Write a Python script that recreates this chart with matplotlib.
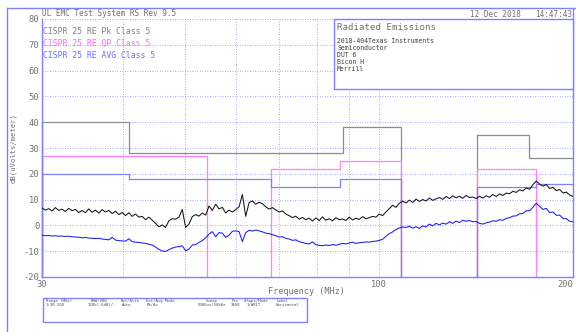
import numpy as np
import matplotlib
matplotlib.use("Agg")
import matplotlib.pyplot as plt
from matplotlib.patches import Rectangle
from matplotlib.lines import Line2D
from matplotlib.ticker import FixedLocator, NullLocator

# ---------------- data ----------------
f_start, f_stop = 30, 200

pk_trace = [
    6.8, 5.9, 6.5, 5.6, 6.9, 5.8, 6.3, 5.4, 6.6, 5.7,
    6.2, 5.0, 5.8, 4.9, 6.4, 5.1, 5.9, 4.8, 6.1, 5.2,
    5.8, 4.6, 5.5, 4.2, 5.0, 3.8, 4.9, 3.5, 4.4, 3.2,
    3.5, 2.2, 3.2, 2.0, 0.8, -0.5, 0.2, -0.8, 1.8, 2.6,
    2.4, 3.2, 6.2, -0.8, 0.5, 3.4, 4.2, 3.6, 4.8, 4.0,
    7.5, 5.8, 8.2, 6.4, 7.0, 4.8, 5.9, 5.2, 6.1, 7.2,
    12.0, 3.5, 8.8, 9.5, 8.2, 9.0, 8.4, 7.2, 6.3, 6.9,
    6.0, 5.2, 5.6, 4.4, 3.8, 3.0, 3.6, 2.4, 3.1, 2.2,
    2.8, 1.7, 2.9, 1.9, 3.3, 2.0, 2.6, 1.8, 3.0, 2.2,
    2.5, 1.9, 3.2, 2.1, 2.8, 2.3, 3.4, 2.6, 3.0, 3.5,
    3.2, 4.4, 3.8, 5.2, 6.5, 7.8, 7.0, 8.6, 9.4, 8.7,
    9.8, 8.9, 10.2, 9.3, 10.0, 9.5, 10.6, 9.7, 10.3, 10.8,
    10.1, 11.2, 10.4, 11.5, 10.7, 11.3, 10.5, 11.6, 10.8, 11.0,
    10.4, 11.3, 10.6, 11.5, 10.9, 12.0, 11.2, 12.2, 11.6, 12.5,
    12.3, 13.2, 12.8, 13.8, 13.4, 14.5, 14.0, 15.8, 17.2, 16.0,
    15.2, 15.9, 14.3, 14.8, 13.5, 13.9, 12.6, 12.9, 11.8, 11.2,
]

avg_trace = [
    -3.8, -4.0, -3.9, -4.1, -4.0, -4.2, -4.1, -4.3, -4.2, -4.4,
    -4.5, -4.6, -4.8, -4.7, -4.9, -5.0, -5.1, -5.0, -5.3, -5.4,
    -5.6, -4.6, -5.7, -5.9, -6.0, -6.1, -5.2, -6.3, -6.5, -6.6,
    -6.8, -7.0, -7.3, -7.6, -8.4, -9.3, -9.9, -10.1, -9.4, -8.8,
    -8.4, -8.2, -7.9, -9.8, -9.2, -7.6, -7.4, -6.6, -5.9, -4.8,
    -3.4, -2.4, -4.4, -2.8, -3.0, -4.6, -3.8, -2.3, -2.1, -2.4,
    -6.3, -2.8, -1.9, -2.2, -1.8, -2.1, -2.5, -3.0, -3.2, -3.6,
    -4.0, -4.5, -4.4, -5.0, -5.3, -5.8, -5.6, -6.3, -6.6, -7.0,
    -7.2, -6.4, -7.5, -7.7, -7.9, -7.6, -7.8, -7.4, -7.7, -7.3,
    -7.0, -7.2, -6.8, -6.5, -7.0, -6.7, -6.6, -6.4, -6.5, -6.2,
    -6.1, -5.8, -5.4, -4.2, -3.2, -2.5, -1.6, -1.0, -0.6, -0.8,
    -0.3, -1.1, -0.5, -1.2, -0.2, -0.6, 0.5, -0.2, 0.8, 0.2,
    0.9, 0.5, 1.4, 0.8, 1.7, 1.1, 2.0, 1.6, 1.9, 1.4,
    1.5, 0.8, 0.5, 1.0, 1.3, 1.8, 1.6, 2.2, 2.0, 2.7,
    3.0, 3.6, 3.7, 4.5, 4.6, 5.7, 5.7, 7.0, 8.6, 7.4,
    6.2, 6.6, 5.0, 5.2, 3.9, 4.0, 2.7, 2.6, 1.6, 1.4,
]

# limit bands: start MHz, stop MHz, level dB(uV/m)
pk_start = [30, 41, 88, 142, 171]
pk_stop = [41, 88, 108, 171, 200]
pk_level = [40, 28, 38, 35, 26]

qp_start = [30, 68, 87, 142]
qp_stop = [54, 87, 108, 175]
qp_level = [27, 22, 25, 22]

avg_start = [30, 41, 68, 87, 142, 175]
avg_stop = [41, 68, 87, 108, 175, 200]
avg_level = [20, 18, 15, 18, 15, 16]

y_ticks = [80, 70, 60, 50, 40, 30, 20, 10, 0, -10, -20]
x_ticks = [30, 100, 200]
x_grid = [40, 50, 60, 70, 80, 90, 100]

legend_labels = ["CISPR 25 RE Pk Class 5", "CISPR 25 RE QP Class 5", "CISPR 25 RE AVG Class 5"]
info_lines = ["2018-404Texas Instruments", "Semiconductor", "DUT 6", "Bicon H", "Merrill"]
table_head = ["Range (MHz)", "RBW/VBW", "Ref/Attn", "Det/Avg Mode", "Sweep", "Pts", "#Swps/Mode", "Label"]
table_vals = ["1:30-200", "120k(-6dB)/-", "Auto", "Pk/Av", "5000us/50kHz", "3400", "1/WRIT", "Horizontal"]

# ---------------- style ----------------
W, H = 576, 332
GRID = "#8a8aff"
FRAME = "#8080ff"
TXT = "#707070"
C_PK_LIM = "#8c8c8c"
C_QP_LIM = "#ff7fff"
C_AVG_LIM = "#8080ff"
MONO = "DejaVu Sans Mono"

fig = plt.figure(figsize=(W / 100, H / 100), dpi=100)
fig.patch.set_facecolor("white")


def fx(x):
    return x / W


def fy(y):
    return 1 - y / H


ax = fig.add_axes([fx(42), fy(277), 531 / W, 258 / H])
ax.set_xscale("log")
ax.set_xlim(f_start, f_stop)
ax.set_ylim(-20, 80)
YMIN = -20


def step_line(starts, stops, levels):
    xs, ys = [], []
    prev_stop = None
    for s, e, l in zip(starts, stops, levels):
        if prev_stop is not None and s != prev_stop:
            xs += [prev_stop, np.nan, s]
            ys += [YMIN, np.nan, YMIN]
        elif prev_stop is None:
            xs.append(s)
            ys.append(YMIN)
        xs += [s, e]
        ys += [l, l]
        prev_stop = e
    if prev_stop < f_stop:
        xs.append(prev_stop)
        ys.append(YMIN)
    return xs, ys


freq = np.geomspace(f_start, f_stop, len(pk_trace))

# grid
for yv in y_ticks:
    ax.axhline(yv, color=GRID, lw=0.6, ls=(0, (1, 2)), zorder=1)
for xv in x_grid:
    ax.axvline(xv, color=GRID, lw=0.6, ls=(0, (1, 2)), zorder=1)

x1, y1 = step_line(pk_start, pk_stop, pk_level)
ax.plot(x1, y1, color=C_PK_LIM, lw=0.9, zorder=2, clip_on=False)
x2, y2 = step_line(qp_start, qp_stop, qp_level)
ax.plot(x2, y2, color=C_QP_LIM, lw=0.9, zorder=2, clip_on=False)
x3, y3 = step_line(avg_start, avg_stop, avg_level)
ax.plot(x3, y3, color=C_AVG_LIM, lw=0.9, zorder=2, clip_on=False)

ax.plot(freq, pk_trace, color="#151515", lw=0.75, zorder=3)
ax.plot(freq, avg_trace, color="#1a1aff", lw=0.75, zorder=3)

for side in ["left", "right", "bottom"]:
    ax.spines[side].set_color(FRAME)
    ax.spines[side].set_linewidth(1.0)
ax.spines["top"].set_visible(False)

ax.xaxis.set_major_locator(FixedLocator(x_ticks))
ax.xaxis.set_minor_locator(NullLocator())
ax.set_xticklabels([str(v) for v in x_ticks])
ax.set_yticks(y_ticks)
ax.set_yticklabels([str(v) for v in y_ticks])
ax.tick_params(axis="both", length=0, colors=TXT, labelsize=6.3, pad=2)
for lab in ax.get_xticklabels() + ax.get_yticklabels():
    lab.set_family(MONO)
ax.tick_params(axis="x", pad=2.5)
xt = ax.get_xticklabels()
xt[-1].set_horizontalalignment("right")
xt[-1].set_x(f_stop)

# labels
fig.text(fx(306), fy(292), "Frequency (MHz)", ha="center", va="center",
         fontsize=6.1, family=MONO, color=TXT)
fig.text(fx(13.5), fy(148), "dB(uVolts/meter)", ha="center", va="center",
         rotation=90, fontsize=5.2, family=MONO, color=TXT)

# header
fig.text(fx(42), fy(14), "UL EMC Test System RS Rev 9.5", ha="left", va="center",
         fontsize=5.6, family=MONO, color=TXT)
fig.text(fx(470), fy(14.3), "12 Dec 2018", ha="left", va="center",
         fontsize=5.5, family=MONO, color=TXT)
fig.text(fx(535), fy(14.3), "14:47:43", ha="left", va="center",
         fontsize=5.5, family=MONO, color=TXT)

leg_y = [32, 43, 56]
leg_c = ["#808080", "#ff66ff", "#7070ff"]
for lab, yy, cc in zip(legend_labels, leg_y, leg_c):
    fig.text(fx(43), fy(yy), lab, ha="left", va="center", fontsize=5.9,
             family=MONO, color=cc, zorder=5)

# title box
fig.add_artist(Rectangle((fx(334), fy(89)), (573 - 334) / W, (89 - 19) / H,
                         transform=fig.transFigure, facecolor="white",
                         edgecolor=FRAME, lw=1.0, zorder=2))
fig.text(fx(337), fy(27.3), "Radiated Emissions", ha="left", va="center",
         fontsize=6.6, family=MONO, color=TXT, zorder=3)
info_y = [40.7, 47.7, 54.6, 61.7, 69.0]
for t, yy in zip(info_lines, info_y):
    fig.text(fx(337), fy(yy), t, ha="left", va="center", fontsize=4.7,
             family=MONO, color="#404040", zorder=3)

# bottom parameter box
fig.add_artist(Rectangle((fx(42.7), fy(322)), (307 - 42.7) / W, (322 - 297.7) / H,
                         transform=fig.transFigure, facecolor="white",
                         edgecolor=FRAME, lw=1.0, zorder=2))
head_x = [46, 91, 121, 146, 206, 232, 244, 277]
val_x = [46, 88, 122, 147, 198, 231, 247, 276]
for t, xx in zip(table_head, head_x):
    fig.text(fx(xx), fy(301), t, ha="left", va="center", fontsize=2.9,
             family=MONO, color="#505050", zorder=3)
for t, xx in zip(table_vals, val_x):
    fig.text(fx(xx), fy(305.5), t, ha="left", va="center", fontsize=2.9,
             family=MONO, color="#505050", zorder=3)

# outer frame
fig.add_artist(Line2D([fx(7), fx(575)], [fy(8), fy(8)], color=FRAME, lw=1.0,
                      transform=fig.transFigure))
fig.add_artist(Line2D([fx(7), fx(7)], [fy(8), fy(332)], color=FRAME, lw=1.0,
                      transform=fig.transFigure))
fig.add_artist(Line2D([fx(573), fx(573)], [fy(8), fy(19)], color=FRAME, lw=1.0,
                      transform=fig.transFigure))

fig.savefig("out.png", dpi=100, facecolor="white")
